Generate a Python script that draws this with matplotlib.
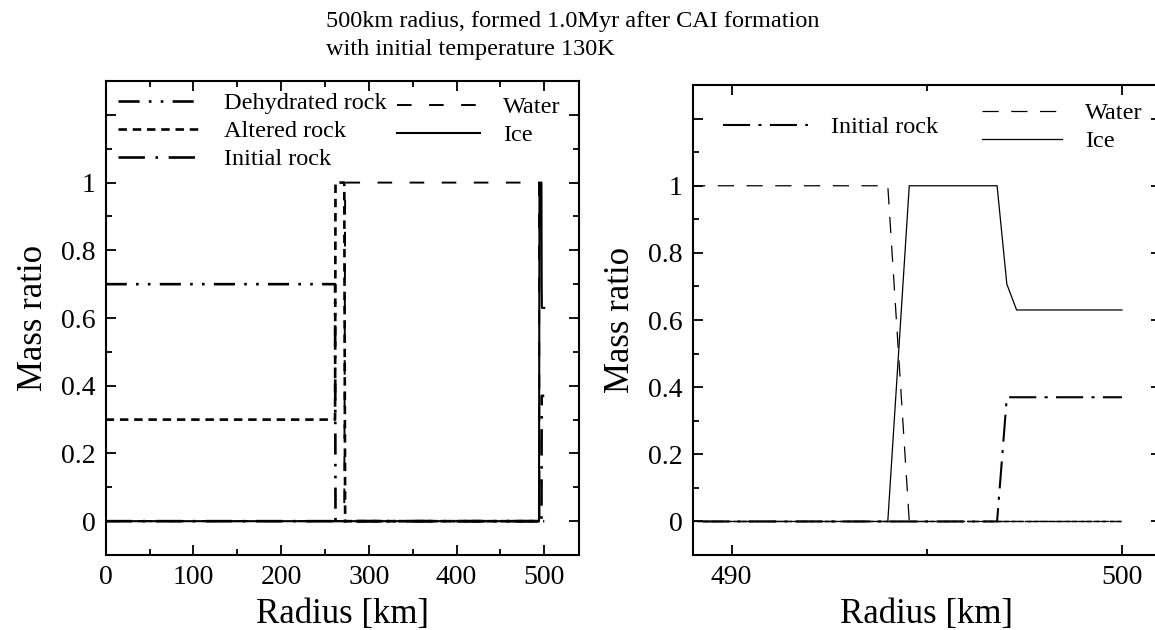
import numpy as np
import matplotlib
matplotlib.use("Agg")
import matplotlib.pyplot as plt
from matplotlib.ticker import MultipleLocator, FixedLocator, FuncFormatter

plt.rcParams['font.family'] = ['Liberation Serif', 'DejaVu Serif']

# profiles (radius in km, mass ratio)
dehyd_r = [0, 261.5, 262, 500]
dehyd_m = [0.7, 0.7, 0.0, 0.0]

altered_r = [0, 261.5, 262, 272, 273, 500]
altered_m = [0.3, 0.3, 1.0, 1.0, 0.0, 0.0]

initial_r = [0, 496.8, 497.05, 500]
initial_m = [0.0, 0.0, 0.37, 0.37]

water_r = [0, 272, 273, 494.0, 494.55, 500]
water_m = [0.0, 0.0, 1.0, 1.0, 0.0, 0.0]

ice_r = [0, 494.0, 494.55, 496.8, 497.05, 497.3, 500]
ice_m = [0.0, 0.0, 1.0, 1.0, 0.707, 0.63, 0.63]

title_lines = ["500km radius, formed 1.0Myr after CAI formation",
               "with initial temperature 130K"]

# line styles
ls_dehyd = (0, (8, 3.5, 1, 3.5, 1, 3.5))
ls_altered = (0, (3.2, 2.2))
ls_initial = (0, (10, 4, 1, 4))
ls_water = (0, (7.5, 9))

fig = plt.figure(figsize=(11.55, 6.3), dpi=100)
ax1 = fig.add_axes([0.0915, 0.119, 0.4101, 0.7524])
ax2 = fig.add_axes([0.5997, 0.119, 0.4055, 0.7460])

# 左图: 全半径
l1, = ax1.plot(dehyd_r, dehyd_m, color='k', lw=1.9, ls=ls_dehyd)
l2, = ax1.plot(altered_r, altered_m, color='k', lw=1.9, ls=ls_altered)
l3, = ax1.plot(initial_r, initial_m, color='k', lw=1.9, ls=ls_initial)
l4, = ax1.plot(water_r, water_m, color='k', lw=1.4, ls=ls_water)
l5, = ax1.plot(ice_r, ice_m, color='k', lw=1.5, ls='-')

# 右图: 表层放大
ax2.plot(dehyd_r, dehyd_m, color='k', lw=1.0, ls=ls_dehyd)
ax2.plot(altered_r, altered_m, color='k', lw=1.0, ls=ls_altered)
r3, = ax2.plot(initial_r, initial_m, color='k', lw=1.5, ls=(0, (13, 4, 1.5, 4)))
r4, = ax2.plot(water_r, water_m, color='k', lw=0.9, ls=(0, (13, 10)))
r5, = ax2.plot(ice_r, ice_m, color='k', lw=0.9, ls='-')

ax1.set_xlim(0, 540)
ax2.set_xlim(489, 501)
for ax in (ax1, ax2):
    ax.set_ylim(-0.1, 1.3)
    ax.yaxis.set_major_locator(FixedLocator([0, 0.2, 0.4, 0.6, 0.8, 1.0, 1.2]))
    ax.yaxis.set_minor_locator(MultipleLocator(0.1))
    ax.yaxis.set_major_formatter(FuncFormatter(lambda v, p: f'{v:g}' if v <= 1.001 else ''))
    ax.tick_params(which='both', direction='in', top=True, right=True,
                   width=1.3, labelsize=20, pad=7)
    ax.tick_params(which='major', length=7)
    ax.tick_params(which='minor', length=4)
    for s in ax.spines.values():
        s.set_linewidth(1.5)
    ax.set_xlabel('Radius [km]', fontsize=25, labelpad=6)
    ax.set_ylabel('Mass ratio', fontsize=25, labelpad=8)

ax1.xaxis.set_major_locator(MultipleLocator(100))
ax1.xaxis.set_minor_locator(MultipleLocator(50))
ax2.xaxis.set_major_locator(MultipleLocator(10))
ax2.xaxis.set_minor_locator(MultipleLocator(5))

# 图例
leg_kw = dict(frameon=False, fontsize=17.5, borderpad=0, borderaxespad=0,
              labelspacing=0.25, handletextpad=0.95, loc='upper left',
              bbox_transform=fig.transFigure)
lg = ax1.legend([l1, l2, l3], ['Dehydrated rock', 'Altered rock', 'Initial rock'],
                handlelength=3.4, bbox_to_anchor=(118 / 1155, 1 - 92 / 630), **leg_kw)
ax1.add_artist(lg)
ax1.legend([l4, l5], ['Water', 'Ice'], handlelength=3.4,
           bbox_to_anchor=(397 / 1155, 1 - 96 / 630), **leg_kw)

lg2 = ax2.legend([r3], ['Initial rock'], handlelength=3.5,
                 bbox_to_anchor=(723 / 1155, 1 - 116 / 630), **leg_kw)
ax2.add_artist(lg2)
ax2.legend([r4, r5], ['Water', 'Ice'], handlelength=3.3,
           bbox_to_anchor=(982 / 1155, 1 - 102 / 630), **leg_kw)

fig.text(326 / 1155, 1 - 11 / 630, '\n'.join(title_lines), fontsize=17.5,
         ha='left', va='top', linespacing=1.45)

fig.savefig('out.png', dpi=100)
